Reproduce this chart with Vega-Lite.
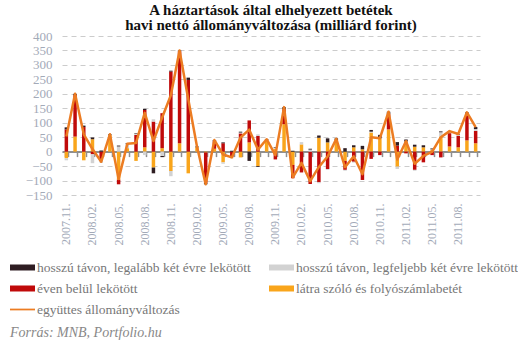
{
  "$schema": "https://vega.github.io/schema/vega-lite/v6.json",
  "width": 418,
  "height": 159,
  "padding": {"left": 10, "top": 3, "right": 0, "bottom": 0},
  "background": "white",
  "title": {
    "text": "A háztartások által elhelyezett betétek",
    "subtitle": "havi nettó állományváltozása (milliárd forint)",
    "font": "Liberation Serif",
    "fontSize": 15,
    "fontWeight": "bold",
    "color": "#111111",
    "subtitleFont": "Liberation Serif",
    "subtitleFontSize": 15,
    "subtitleFontWeight": "bold",
    "subtitleColor": "#111111",
    "subtitlePadding": 0,
    "anchor": "middle",
    "offset": -3
  },
  "config": {
    "view": {"stroke": null},
    "axisY": {
      "domain": false,
      "ticks": false,
      "grid": true,
      "gridColor": "#cccccc",
      "gridDash": [5, 4],
      "gridWidth": 1,
      "labelFont": "Liberation Serif",
      "labelFontSize": 13,
      "labelColor": "#a3aab8",
      "labelPadding": 10
    }
  },
  "datasets": {
    "rows": [
      {"m": "2007.11.", "a": -23, "b": 77, "c": -7, "d": 7, "t": 52},
      {"m": "2007.12.", "a": 52, "b": 144, "c": 0, "d": 4, "t": 200},
      {"m": "2008.01.", "a": -30, "b": 85, "c": 0, "d": 5, "t": 60},
      {"m": "2008.02.", "a": 43, "b": -9, "c": -31, "d": 6, "t": 9},
      {"m": "2008.03.", "a": 0, "b": -29, "c": -10, "d": 4, "t": -35},
      {"m": "2008.04.", "a": 57, "b": 0, "c": 0, "d": 3, "t": 60},
      {"m": "2008.05.", "a": -97, "b": -16, "c": 18, "d": 3, "t": -95},
      {"m": "2008.06.", "a": 12, "b": 0, "c": 14, "d": 3, "t": 27},
      {"m": "2008.07.", "a": -32, "b": 58, "c": 3, "d": 2, "t": 30},
      {"m": "2008.08.", "a": 15, "b": 129, "c": -12, "d": 4, "t": 134},
      {"m": "2008.09.", "a": -55, "b": 104, "c": 8, "d": -20, "t": 37},
      {"m": "2008.10.", "a": 12, "b": 121, "c": -15, "d": -4, "t": 118},
      {"m": "2008.11.", "a": -67, "b": 277, "c": -18, "d": 3, "t": 195},
      {"m": "2008.12.", "a": 29, "b": 318, "c": 0, "d": 3, "t": 350},
      {"m": "2009.01.", "a": -75, "b": 248, "c": 0, "d": 8, "t": 181},
      {"m": "2009.02.", "a": 15, "b": 0, "c": 0, "d": 3, "t": 18},
      {"m": "2009.03.", "a": -3, "b": -105, "c": 0, "d": -5, "t": -113},
      {"m": "2009.04.", "a": 10, "b": 26, "c": 0, "d": 4, "t": 40},
      {"m": "2009.05.", "a": -37, "b": 29, "c": -5, "d": 3, "t": -10},
      {"m": "2009.06.", "a": 0, "b": -18, "c": -5, "d": 3, "t": -20},
      {"m": "2009.07.", "a": -20, "b": 63, "c": 3, "d": 3, "t": 49},
      {"m": "2009.08.", "a": 32, "b": 76, "c": 0, "d": -32, "t": 76},
      {"m": "2009.09.", "a": -50, "b": 54, "c": 6, "d": -3, "t": 7},
      {"m": "2009.10.", "a": 40, "b": 0, "c": 0, "d": 3, "t": 43},
      {"m": "2009.11.", "a": 10, "b": -27, "c": 3, "d": 2, "t": -12},
      {"m": "2009.12.", "a": 95, "b": 52, "c": 0, "d": 7, "t": 154},
      {"m": "2010.01.", "a": -46, "b": -46, "c": 0, "d": 3, "t": -89},
      {"m": "2010.02.", "a": 25, "b": -72, "c": 8, "d": 0, "t": -39},
      {"m": "2010.03.", "a": 0, "b": -112, "c": 7, "d": 3, "t": -102},
      {"m": "2010.04.", "a": 48, "b": -106, "c": -3, "d": 8, "t": -53},
      {"m": "2010.05.", "a": 32, "b": -60, "c": -3, "d": 14, "t": -17},
      {"m": "2010.06.", "a": 40, "b": 0, "c": 0, "d": 6, "t": 44},
      {"m": "2010.07.", "a": -32, "b": -31, "c": -3, "d": 12, "t": -54},
      {"m": "2010.08.", "a": 15, "b": -35, "c": -3, "d": 7, "t": -16},
      {"m": "2010.09.", "a": 8, "b": -98, "c": 0, "d": 12, "t": -78},
      {"m": "2010.10.", "a": 66, "b": -25, "c": 3, "d": 6, "t": 50},
      {"m": "2010.11.", "a": 46, "b": -12, "c": 0, "d": 12, "t": 46},
      {"m": "2010.12.", "a": 77, "b": 52, "c": 0, "d": 9, "t": 138},
      {"m": "2011.01.", "a": -52, "b": 21, "c": -8, "d": 12, "t": -27},
      {"m": "2011.02.", "a": 35, "b": -6, "c": 0, "d": 7, "t": 36},
      {"m": "2011.03.", "a": 17, "b": -63, "c": -3, "d": 7, "t": -42},
      {"m": "2011.04.", "a": 15, "b": -37, "c": 0, "d": 7, "t": -15},
      {"m": "2011.05.", "a": 6, "b": -12, "c": 2, "d": 3, "t": -1},
      {"m": "2011.06.", "a": 52, "b": -20, "c": 15, "d": 3, "t": 50},
      {"m": "2011.07.", "a": 18, "b": 46, "c": 5, "d": 2, "t": 71},
      {"m": "2011.08.", "a": 15, "b": 40, "c": 4, "d": 2, "t": 61},
      {"m": "2011.09.", "a": 39, "b": 92, "c": 0, "d": 5, "t": 136},
      {"m": "2011.10.", "a": 29, "b": 43, "c": 6, "d": 7, "t": 85}
    ]
  },
  "data": {"name": "rows"},
  "layer": [
    {
      "transform": [{"fold": ["a", "b", "c", "d"], "as": ["k", "v"]}],
      "mark": {"type": "bar"},
      "encoding": {
        "x": {
          "field": "m",
          "type": "ordinal",
          "sort": null,
          "scale": {"paddingInner": 0.6, "paddingOuter": 0.3},
          "axis": {
            "orient": "bottom",
            "offset": -43.4,
            "title": null,
            "labels": false,
            "grid": false,
            "domainColor": "#8f8f8f",
            "domainWidth": 2,
            "ticks": true,
            "tickBand": "extent",
            "tickColor": "#8f8f8f",
            "tickSize": 5,
            "tickWidth": 1.5
          }
        },
        "y": {
          "field": "v",
          "type": "quantitative",
          "stack": "zero",
          "scale": {"domain": [-150, 400], "nice": false},
          "axis": {"title": null, "values": [-150, -100, -50, 0, 50, 100, 150, 200, 250, 300, 350, 400]}
        },
        "color": {
          "field": "k",
          "type": "nominal",
          "scale": {
            "domain": ["d", "c", "b", "a", "t"],
            "range": ["#2e1d22", "#d2d2d2", "#c00a0a", "#f9a51b", "#ec7c22"]
          },
          "legend": {
            "orient": "none",
            "legendX": -52,
            "legendY": 219,
            "direction": "horizontal",
            "columns": 2,
            "columnPadding": 10,
            "rowPadding": 2,
            "gridAlign": "all",
            "symbolType": "M-1,-0.24H1V0.24H-1Z",
            "symbolSize": 625,
            "symbolStrokeWidth": 0,
            "labelFont": "Liberation Serif",
            "labelFontSize": 13.5,
            "labelColor": "#777777",
            "labelOffset": 2,
            "labelLimit": 300,
            "labelExpr": "datum.label === 'd' ? 'hosszú távon, legalább két évre lekötött' : datum.label === 'c' ? 'hosszú távon, legfeljebb két évre lekötött' : datum.label === 'b' ? 'éven belül lekötött' : datum.label === 'a' ? 'látra szóló és folyószámlabetét' : 'együttes állományváltozás'",
            "title": "Forrás: MNB, Portfolio.hu",
            "titleOrient": "bottom",
            "titleAnchor": "start",
            "titleFont": "Liberation Serif",
            "titleFontSize": 14,
            "titleFontStyle": "italic",
            "titleFontWeight": "normal",
            "titleColor": "#888888",
            "titlePadding": 10,
            "encode": {
              "symbols": {
                "update": {
                  "shape": {"signal": "datum.value === 't' ? 'M-1,-0.07H1V0.07H-1Z' : 'M-1,-0.24H1V0.24H-1Z'"},
                  "fill": {"scale": "color", "field": "value"},
                  "stroke": {"value": "transparent"}
                }
              }
            }
          }
        },
        "order": {"field": "k", "sort": "ascending"}
      }
    },
    {
      "mark": {"type": "line", "strokeWidth": 2.5, "strokeJoin": "round"},
      "encoding": {
        "x": {
          "field": "m",
          "type": "ordinal",
          "sort": null,
          "axis": {
            "orient": "bottom",
            "title": null,
            "domain": false,
            "ticks": false,
            "grid": false,
            "labelAngle": -90,
            "labelFont": "Liberation Serif",
            "labelFontSize": 12,
            "labelColor": "#a3aab8",
            "labelPadding": 8,
            "values": ["2007.11.", "2008.02.", "2008.05.", "2008.08.", "2008.11.", "2009.02.", "2009.05.", "2009.08.", "2009.11.", "2010.02.", "2010.05.", "2010.08.", "2010.11.", "2011.02.", "2011.05.", "2011.08."]
          }
        },
        "y": {
          "field": "t",
          "type": "quantitative",
          "axis": {"title": null, "values": [-150, -100, -50, 0, 50, 100, 150, 200, 250, 300, 350, 400]}
        },
        "color": {"datum": "t"}
      }
    }
  ],
  "resolve": {"axis": {"x": "independent"}}
}
